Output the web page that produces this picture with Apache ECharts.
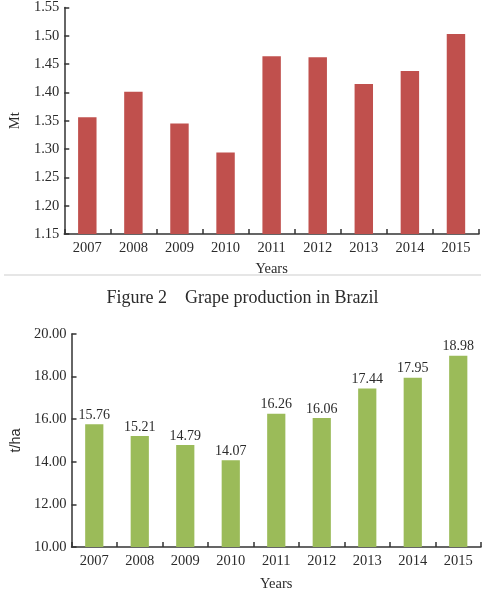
<!DOCTYPE html>
<html>
<head>
<meta charset="utf-8">
<script src="https://cdn.jsdelivr.net/npm/echarts@6/dist/echarts.min.js"></script>
<style>
  html, body { margin: 0; padding: 0; background: #fff; }
  #main { width: 485px; height: 593px; }
</style>
</head>
<body>
<div id="main"></div>
<script>
// data
var years = ['2007', '2008', '2009', '2010', '2011', '2012', '2013', '2014', '2015'];
var production = [1.356, 1.401, 1.345, 1.294, 1.464, 1.462, 1.415, 1.438, 1.503];   // Mt
var yieldPerHa = [15.76, 15.21, 14.79, 14.07, 16.26, 16.06, 17.44, 17.95, 18.98];   // t/ha

var serif = '"Liberation Serif", "Times New Roman", serif';
var ink = '#2b2b2b';

var chart = echarts.init(document.getElementById('main'));

function catAxis(idx, gap) {
    return {
        gridIndex: idx,
        type: 'category',
        data: years,
        name: 'Years',
        nameLocation: 'middle',
        nameGap: gap,
        nameTextStyle: {fontFamily: serif, fontSize: 14.5, color: ink},
        axisLine: {lineStyle: {color: '#333', width: 1.5}},
        axisTick: {show: true, inside: true, length: 5, lineStyle: {color: '#333', width: 1.5}},
        axisLabel: {fontFamily: serif, fontSize: 14.5, color: ink, margin: 7}
    };
}

function valAxis(idx, min, max, step, name, nameFont) {
    return {
        gridIndex: idx,
        type: 'value',
        min: min,
        max: max,
        interval: step,
        name: name,
        nameLocation: 'middle',
        nameGap: 38,
        nameRotate: 90,
        nameTextStyle: {fontFamily: nameFont, fontSize: 14.5, color: ink},
        axisLine: {show: true, lineStyle: {color: '#333', width: 1.5}},
        axisTick: {show: true, inside: true, length: 5, lineStyle: {color: '#333', width: 1.5}},
        axisLabel: {
            fontFamily: serif, fontSize: 14.5, color: ink, margin: 5,
            formatter: function (v) { return v.toFixed(2); }
        },
        splitLine: {show: false}
    };
}

chart.setOption({
    animation: false,
    backgroundColor: '#fff',
    grid: [
        {left: 56, top: 4, right: 6, bottom: 359},  // top panel
        {left: 65, top: 334, right: 4, bottom: 40}  // bottom panel
    ],
    title: {
        text: 'Figure 2    Grape production in Brazil',
        left: 'center',
        top: 284,
        textStyle: {fontFamily: serif, fontSize: 18, fontWeight: 'normal', color: ink}
    },
    graphic: [
        {type: 'line', shape: {x1: 4, y1: 275, x2: 481, y2: 275}, style: {stroke: '#e6e6e6', lineWidth: 2}}
    ],
    xAxis: [catAxis(0, 28), catAxis(1, 30)],
    yAxis: [
        valAxis(0, 1.15, 1.55, 0.05, 'Mt', serif),
        valAxis(1, 10, 20, 2, 't/ha', '"Liberation Sans", Arial, sans-serif')
    ],
    series: [
        {
            type: 'bar',
            xAxisIndex: 0,
            yAxisIndex: 0,
            data: production,
            barWidth: '40%',
            itemStyle: {color: '#c0504d'}
        },
        {
            type: 'bar',
            xAxisIndex: 1,
            yAxisIndex: 1,
            data: yieldPerHa,
            barWidth: '40%',
            itemStyle: {color: '#9bbb59'},
            label: {
                show: true,
                position: 'top',
                distance: 2,
                fontFamily: serif,
                fontSize: 14,
                color: ink,
                formatter: function (p) { return p.value.toFixed(2); }
            }
        }
    ]
});
</script>
</body>
</html>
